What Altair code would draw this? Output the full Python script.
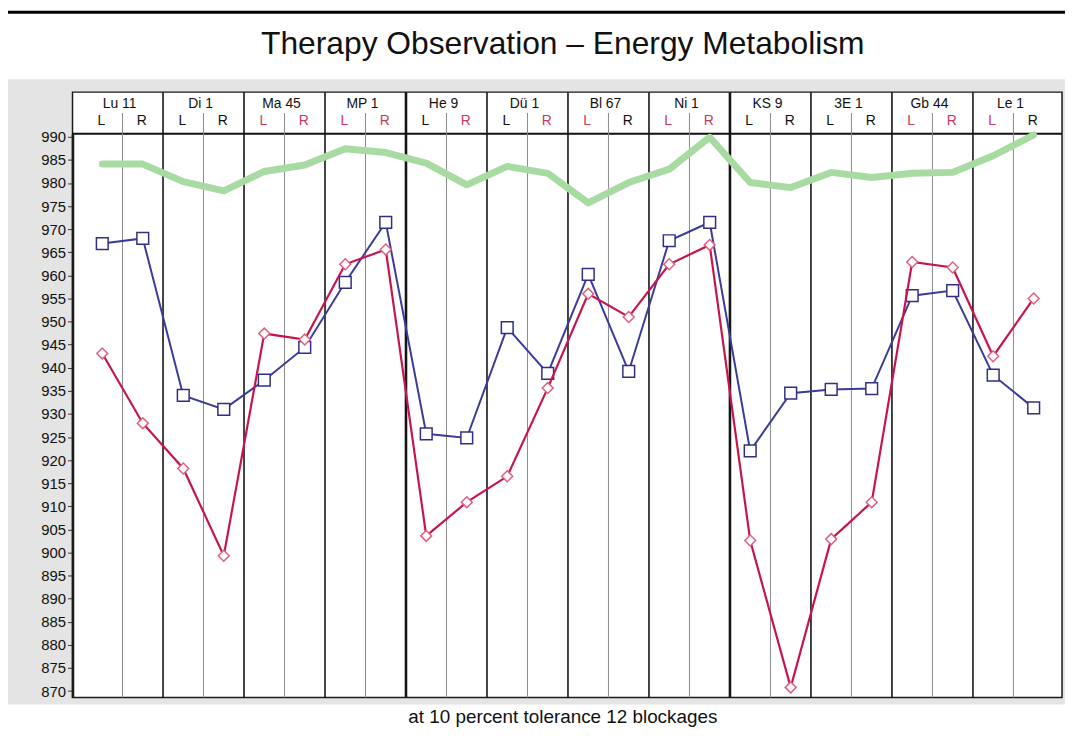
import altair as alt
import pandas as pd

# ---------------- data ----------------
groups = ["Lu 11", "Di 1", "Ma 45", "MP 1", "He 9", "Dü 1",
          "Bl 67", "Ni 1", "KS 9", "3E 1", "Gb 44", "Le 1"]
sides = ["L", "R"]

blue = [966.9, 968.0, 934.0, 931.0, 937.3, 944.4, 958.5, 971.5,
        925.7, 924.8, 948.7, 938.8, 960.2, 939.2, 967.5, 971.5,
        922.0, 934.5, 935.3, 935.5, 955.6, 956.7, 938.4, 931.3]
red = [943.1, 928.0, 918.2, 899.3, 947.4, 946.1, 962.4, 965.6,
       903.6, 910.9, 916.5, 935.6, 956.0, 951.0, 962.4, 966.6,
       902.6, 870.8, 902.9, 910.9, 962.9, 961.7, 942.5, 955.0]
green = [984.1, 984.1, 980.3, 978.3, 982.5, 983.9, 987.4, 986.6,
         984.3, 979.6, 983.6, 982.1, 975.7, 980.1, 983.0, 989.9,
         980.1, 979.0, 982.3, 981.2, 982.1, 982.3, 985.9, 990.4]
blocked = [False, False, False, False, True, True, True, True,
           False, True, False, True, True, False, True, True,
           False, False, False, False, True, True, True, False]
y_ticks = list(range(870, 995, 5))

title_text = "Therapy Observation \u2013 Energy Metabolism"
footer_text = f"at 10 percent tolerance {sum(blocked)} blockages"

# ---------------- tables ----------------
n = len(blue)
df = pd.DataFrame({
    "idx": list(range(n)),
    "side": sides * len(groups),
    "group": [g for g in groups for _ in sides],
    "blue": blue,
    "red": red,
    "green": green,
    "state": ["blocked" if b else "ok" for b in blocked],
})
grp_df = pd.DataFrame({"group": groups, "mid": [2 * i + 0.5 for i in range(len(groups))]})
major_df = pd.DataFrame({"pos": [2 * i + 1.5 for i in range(len(groups) - 1)],
                         "major": [(i + 1) % 4 == 0 for i in range(len(groups) - 1)]})
one = pd.DataFrame({"t": [title_text], "f": [footer_text]})

W, H = 997, 568
xscale = alt.Scale(domain=[-0.735, 23.70], nice=False, zero=False)
yscale = alt.Scale(domain=[868.6, 990.65], nice=False, zero=False)
yaxis = alt.Axis(values=y_ticks, title=None, grid=False, domainColor="#1a1a1a",
                 domainWidth=2.5, tickColor="#333333", tickSize=5, tickWidth=1,
                 labelFontSize=15, labelColor="#111111", labelFont="Liberation Sans",
                 labelPadding=2, zindex=1)

def Y(field):
    return alt.Y(f"{field}:Q", scale=yscale, axis=yaxis)

X = alt.X("idx:Q", scale=xscale, axis=None)

base1 = alt.Chart(one)

top_rule = base1.mark_rect(color="#000000").encode(
    x=alt.value(-65), x2=alt.value(1000), y=alt.value(-124), y2=alt.value(-121))
gray = base1.mark_rect(color="#e4e4e4").encode(
    x=alt.value(-65), x2=alt.value(1000), y=alt.value(-55), y2=alt.value(575))
frame = base1.mark_rect(fill="white", stroke="#1a1a1a", strokeWidth=1.5).encode(
    x=alt.value(0), x2=alt.value(W), y=alt.value(-42), y2=alt.value(H))
head_rule = base1.mark_rule(color="#111111", strokeWidth=2).encode(
    x=alt.value(0), x2=alt.value(W), y=alt.value(0))

thin = alt.Chart(grp_df).mark_rule(color="#8a8a8a", strokeWidth=1).encode(
    x=alt.X("mid:Q", scale=xscale, axis=None), y=alt.value(-21), y2=alt.value(H))
thick = alt.Chart(major_df).mark_rule(color="#151515").encode(
    x=alt.X("pos:Q", scale=xscale, axis=None), y=alt.value(-42), y2=alt.value(H),
    strokeWidth=alt.condition("datum.major", alt.value(2.6), alt.value(1.6)))

grp_text = alt.Chart(grp_df).mark_text(fontSize=14, font="Liberation Sans",
                                       color="#111111", dx=-3, baseline="middle").encode(
    x=alt.X("mid:Q", scale=xscale, axis=None), y=alt.value(-30), text="group:N")
lr_text = alt.Chart(df).mark_text(fontSize=14, font="Liberation Sans", dx=-1,
                                  baseline="middle").encode(
    x=X, y=alt.value(-13), text="side:N",
    color=alt.Color("state:N", scale=alt.Scale(domain=["ok", "blocked"],
                                               range=["#111111", "#c83862"]), legend=None))

base = alt.Chart(df)
g_line = base.mark_line(color="#a8dba2", strokeWidth=7, strokeCap="round",
                        strokeJoin="round").encode(x=X, y=Y("green"))
b_line = base.mark_line(color="#3b3b98", strokeWidth=2).encode(x=X, y=Y("blue"))
b_pts = base.mark_point(shape="square", size=140, filled=True, fill="white",
                        stroke="#2f2f88", strokeWidth=1.5, opacity=1).encode(x=X, y=Y("blue"))
r_line = base.mark_line(color="#c8144c", strokeWidth=2.2).encode(x=X, y=Y("red"))
r_pts = base.mark_point(shape="diamond", size=121, filled=True, fill="white",
                        stroke="#e0607f", strokeWidth=1.5, opacity=1).encode(x=X, y=Y("red"))

title = base1.mark_text(fontSize=32, font="Liberation Sans", color="#111111",
                        align="center", baseline="middle").encode(
    x=alt.value(494), y=alt.value(-90), text="t:N")
footer = base1.mark_text(fontSize=19, font="Liberation Sans", color="#111111",
                         align="center", baseline="middle").encode(
    x=alt.value(494), y=alt.value(588), text="f:N")

chart = alt.layer(
    top_rule, gray, frame, head_rule, thin, thick, grp_text, lr_text,
    g_line, b_line, b_pts, r_line, r_pts, title, footer
).properties(
    width=W, height=H,
    autosize=alt.AutoSizeParams(type="none"),
    padding={"left": 65, "top": 124, "right": 3, "bottom": 39},
    background="white",
).configure_view(stroke=None)

chart.save("out.html", embed_options={"renderer": "svg", "actions": False})
